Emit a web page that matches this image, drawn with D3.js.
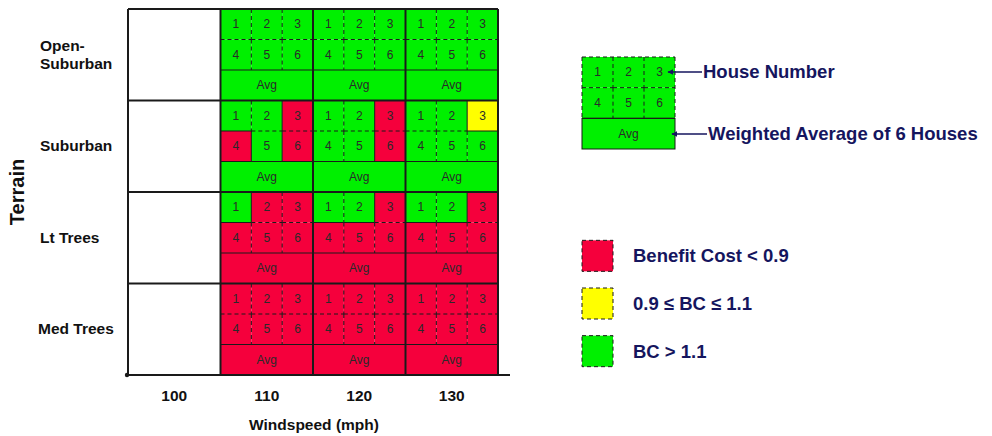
<!DOCTYPE html>
<html><head><meta charset="utf-8">
<script src="https://cdn.jsdelivr.net/npm/d3@7"></script>
<style>body{margin:0;background:#fff} svg{display:block}</style>
</head><body>
<svg id="c" width="992" height="436"></svg>
<script>
// ---- data ----
const terrains = ["Open-Suburban", "Suburban", "Lt Trees", "Med Trees"];
const windspeeds = ["100", "110", "120", "130"];
const houseLabels = ["1", "2", "3", "4", "5", "6"];
const avgLabel = "Avg";
// ratings per windspeed: houses 1..6 then weighted average; R: BC<0.9, Y: 0.9–1.1, G: BC>1.1; null = no result
const openSuburban = [null, ["G","G","G","G","G","G","G"], ["G","G","G","G","G","G","G"], ["G","G","G","G","G","G","G"]];
const suburban     = [null, ["G","G","R","R","G","R","G"], ["G","G","R","G","G","R","G"], ["G","G","Y","G","G","G","G"]];
const ltTrees      = [null, ["G","R","R","R","R","R","R"], ["G","G","R","R","R","R","R"], ["G","G","R","R","R","R","R"]];
const medTrees     = [null, ["R","R","R","R","R","R","R"], ["R","R","R","R","R","R","R"], ["R","R","R","R","R","R","R"]];
const ratingsByTerrain = [openSuburban, suburban, ltTrees, medTrees];
const legendExample = ["G","G","G","G","G","G","G"];
const legendCodes = ["R", "Y", "G"];
const legendLabels = ["Benefit Cost < 0.9", "0.9 \u2264 BC \u2264 1.1", "BC > 1.1"];
const annotationLabels = ["House Number", "Weighted Average of 6 Houses"];
const xTitle = "Windspeed (mph)";
const yTitle = "Terrain";

// ---- drawing ----
const color = d3.scaleOrdinal().domain(["R","Y","G"]).range(["#f5003c", "#ffff00", "#00f000"]);
const svg = d3.select("#c");
const FONT = "'Liberation Sans', Arial, sans-serif";
const NAVY = "#15155e";

const x = d3.scaleBand().domain(windspeeds).range([128, 498]);
const y = d3.scaleBand().domain(terrains).range([9, 375]);

function line(g, x1, y1, x2, y2, dashed, w) {
  g.append("line").attr("x1", x1).attr("y1", y1).attr("x2", x2).attr("y2", y2)
    .attr("stroke", "#1a1a1a").attr("stroke-width", w || 1)
    .attr("stroke-dasharray", dashed ? "4,3" : null);
}

function drawBlock(g, r, bx, by, bw, bh, outline) {
  const sx = d3.scaleBand().domain([0, 1, 2]).range([bx, bx + bw]);
  const sy = d3.scaleBand().domain([0, 1, 2]).range([by, by + bh]);
  const cw = sx.bandwidth(), ch = sy.bandwidth();
  houseLabels.forEach((lab, i) => {
    const c = i % 3, rr = Math.floor(i / 3);
    g.append("rect").attr("x", sx(c)).attr("y", sy(rr)).attr("width", cw).attr("height", ch)
      .attr("fill", color(r[i]));
  });
  g.append("rect").attr("x", bx).attr("y", sy(2)).attr("width", bw).attr("height", ch)
    .attr("fill", color(r[6]));
  for (let rr = 0; rr < 2; rr++) {
    for (let c = 0; c < 2; c++) {
      const a = r[rr * 3 + c], b = r[rr * 3 + c + 1];
      line(g, sx(c + 1), sy(rr), sx(c + 1), sy(rr) + ch, a === b);
    }
  }
  for (let c = 0; c < 3; c++) {
    line(g, sx(c), sy(1), sx(c) + cw, sy(1), r[c] === r[c + 3]);
  }
  line(g, bx, sy(2), bx + bw, sy(2), false);
  if (outline) {
    line(g, bx, by, bx + bw, by, true);
    line(g, bx, by, bx, sy(2), true);
    line(g, bx + bw, by, bx + bw, sy(2), true);
    g.append("rect").attr("x", bx).attr("y", sy(2)).attr("width", bw).attr("height", ch)
      .attr("fill", "none").attr("stroke", "#1a1a1a").attr("stroke-width", 1);
  }
  houseLabels.forEach((lab, i) => {
    const c = i % 3, rr = Math.floor(i / 3);
    g.append("text").attr("x", sx(c) + cw / 2).attr("y", sy(rr) + ch / 2 + 4)
      .attr("text-anchor", "middle").attr("font-family", FONT).attr("font-size", 12)
      .attr("fill", "#2a2a2a").text(lab);
  });
  g.append("text").attr("x", bx + bw / 2).attr("y", sy(2) + ch / 2 + 4)
    .attr("text-anchor", "middle").attr("font-family", FONT).attr("font-size", 12)
    .attr("fill", "#2a2a2a").text(avgLabel);
}

const grid = svg.append("g");
terrains.forEach((t, ti) => {
  windspeeds.forEach((w, wi) => {
    const r = ratingsByTerrain[ti][wi];
    if (!r) {
      grid.append("rect").attr("x", x(w)).attr("y", y(t)).attr("width", x.bandwidth()).attr("height", y.bandwidth()).attr("fill", "#fff");
    } else {
      drawBlock(grid, r, x(w), y(t), x.bandwidth(), y.bandwidth(), false);
    }
  });
});
const major = svg.append("g");
const x0 = x.range()[0], x1 = x.range()[1], y0 = y.range()[0], y1 = y.range()[1];
windspeeds.forEach(w => line(major, x(w), y0, x(w), y1, false, 2));
line(major, x1, y0, x1, y1, false, 2);
terrains.forEach(t => line(major, x0, y(t), x1, y(t), false, 2));
line(major, x0 - 1, y1, 510, y1, false, 2);
major.append("circle").attr("cx", x0 - 1).attr("cy", y1).attr("r", 2.2).attr("fill", "#1a1a1a");

const ax = svg.append("g").attr("transform", `translate(0,${y1})`)
  .call(d3.axisBottom(x).tickSize(0).tickPadding(15));
ax.select(".domain").remove();
ax.selectAll("text").attr("font-family", FONT).attr("font-size", 15.5).attr("font-weight", "bold").attr("fill", "#111");

svg.append("text").attr("x", (x0 + x1) / 2 + 1).attr("y", 430).attr("text-anchor", "middle")
  .attr("font-family", FONT).attr("font-size", 15.5).attr("font-weight", "bold").attr("fill", "#111").text(xTitle);

terrains.forEach(t => {
  const parts = t.includes("-") ? [t.slice(0, t.indexOf("-") + 1), t.slice(t.indexOf("-") + 1)] : [t];
  const cy = y(t) + y.bandwidth() / 2;
  const txt = svg.append("text").attr("font-family", FONT).attr("font-size", 15.5).attr("font-weight", "bold").attr("fill", "#111");
  parts.forEach((p, i) => {
    txt.append("tspan").attr("x", t === "Med Trees" ? 38 : 40)
      .attr("y", cy + 5 + (i - (parts.length - 1) / 2) * 18).text(p);
  });
});
svg.append("text").attr("transform", `translate(24,${(y0 + y1) / 2}) rotate(-90)`)
  .attr("text-anchor", "middle").attr("font-family", FONT).attr("font-size", 20).attr("font-weight", "bold")
  .attr("fill", "#111").text(yTitle);

const lg = svg.append("g");
drawBlock(lg, legendExample, 582, 57, 93, 92, true);
svg.append("defs").append("marker").attr("id", "ah").attr("viewBox", "0 0 10 10").attr("refX", 9).attr("refY", 5)
  .attr("markerWidth", 6).attr("markerHeight", 6).attr("markerUnits", "userSpaceOnUse").attr("orient", "auto")
  .append("path").attr("d", "M0,0 L10,5 L0,10 Z").attr("fill", NAVY);
const annY = [72, 134], annX = [668, 672], annTX = [703, 708];
annotationLabels.forEach((lab, i) => {
  lg.append("line").attr("x1", annTX[i] - 1).attr("y1", annY[i]).attr("x2", annX[i]).attr("y2", annY[i])
    .attr("stroke", NAVY).attr("stroke-width", 1.5).attr("marker-end", "url(#ah)");
  lg.append("text").attr("x", annTX[i]).attr("y", annY[i] + 6).attr("font-family", FONT).attr("font-size", 18.5)
    .attr("font-weight", "bold").attr("fill", NAVY).text(lab);
});
const ly = d3.scaleBand().domain(legendCodes).range([240, 383]);
legendCodes.forEach((c, i) => {
  const yy = ly(c) + (ly.bandwidth() - 31) / 2 - 8;
  lg.append("rect").attr("x", 582).attr("y", yy).attr("width", 31).attr("height", 31)
    .attr("fill", color(c)).attr("stroke", "#1a1a1a").attr("stroke-dasharray", "4,3");
  lg.append("text").attr("x", 633).attr("y", yy + 22).attr("font-family", FONT).attr("font-size", 18.5)
    .attr("font-weight", "bold").attr("fill", NAVY).text(legendLabels[i]);
});
</script>
</body></html>
